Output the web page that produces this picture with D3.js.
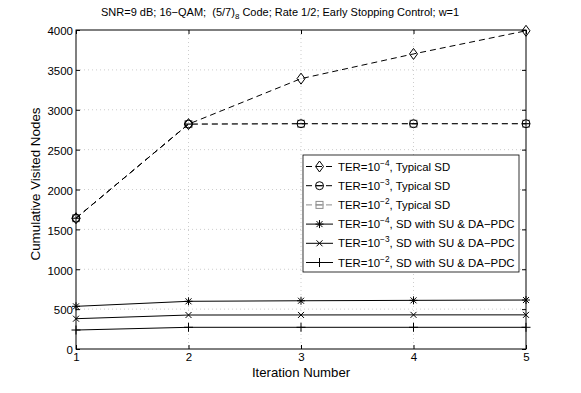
<!DOCTYPE html>
<html><head><meta charset="utf-8">
<script src="https://cdn.jsdelivr.net/npm/d3@7"></script>
<style>
body{margin:0;background:#fff;}
text{font-family:"Liberation Sans",Arial,Helvetica,sans-serif;}
</style></head>
<body><svg id="c" width="581" height="393"></svg>
<script>
const iterations = [1, 2, 3, 4, 5];
const typicalTER4 = [1640, 2820, 3390, 3700, 3990];
const typicalTER3 = [1640, 2820, 2825, 2825, 2825];
const typicalTER2 = [1640, 2820, 2825, 2825, 2825];
const suTER4 = [535, 598, 605, 610, 614];
const suTER3 = [380, 426, 427, 428, 428];
const suTER2 = [238, 272, 272, 272, 272];
const yTicks = [0, 500, 1000, 1500, 2000, 2500, 3000, 3500, 4000];
const xTicks = [1, 2, 3, 4, 5];
const legendExps = ["−4", "−3", "−2", "−4", "−3", "−2"];
const legendSuffix = [", Typical SD", ", Typical SD", ", Typical SD", ", SD with SU & DA−PDC", ", SD with SU & DA−PDC", ", SD with SU & DA−PDC"];

const series = [
  {v: typicalTER2, marker: "square", dash: "6,4", color: "#8c8c8c"},
  {v: typicalTER3, marker: "circle", dash: "6,4", color: "#000"},
  {v: typicalTER4, marker: "diamond", dash: "6,4", color: "#000"},
  {v: suTER4, marker: "star", dash: null, color: "#000"},
  {v: suTER3, marker: "x", dash: null, color: "#000"},
  {v: suTER2, marker: "plus", dash: null, color: "#000"}
];
const legendOrder = [2, 1, 0, 3, 4, 5];

const svg = d3.select("#c");
const L = 76, R = 526, T = 30, B = 349;
const x = d3.scaleLinear().domain([1, 5]).range([L, R]);
const y = d3.scaleLinear().domain([0, 4000]).range([B, T]);

// grid
const g = svg.append("g");
g.selectAll(".gx").data(xTicks.slice(1, -1)).enter().append("line")
  .attr("x1", d => x(d)).attr("x2", d => x(d)).attr("y1", T).attr("y2", B)
  .attr("stroke", "#c0c0c0").attr("stroke-width", 0.8).attr("stroke-dasharray", "1,3");
g.selectAll(".gy").data(yTicks.slice(1, -1)).enter().append("line")
  .attr("x1", L).attr("x2", R).attr("y1", d => y(d)).attr("y2", d => y(d))
  .attr("stroke", "#c0c0c0").attr("stroke-width", 0.8).attr("stroke-dasharray", "1,3");

// axes
const fs = 11.5;
const ax = svg.append("g").attr("transform", `translate(0,${B})`)
  .call(d3.axisBottom(x).tickValues(xTicks).tickFormat(d3.format("d")).tickSizeInner(-4).tickSizeOuter(0).tickPadding(6));
const ay = svg.append("g").attr("transform", `translate(${L},0)`)
  .call(d3.axisLeft(y).tickValues(yTicks).tickFormat(d3.format("d")).tickSizeInner(-4).tickSizeOuter(0).tickPadding(3));
const at = svg.append("g").attr("transform", `translate(0,${T})`)
  .call(d3.axisTop(x).tickValues(xTicks).tickFormat("").tickSizeInner(-4).tickSizeOuter(0));
const ar = svg.append("g").attr("transform", `translate(${R},0)`)
  .call(d3.axisRight(y).tickValues(yTicks).tickFormat("").tickSizeInner(-4).tickSizeOuter(0));
[ax, ay, at, ar].forEach(a => {
  a.select(".domain").remove();
  a.selectAll("text").attr("font-size", fs).attr("fill", "#000").style("font-family", '"Liberation Sans",Arial,sans-serif');
  a.selectAll("line").attr("stroke", "#000");
});
ay.selectAll("text").attr("dy", "0.42em");
ax.selectAll("text").attr("dy", "0.5em");
svg.append("rect").attr("x", L).attr("y", T).attr("width", R - L).attr("height", B - T)
  .attr("fill", "none").attr("stroke", "#000").attr("stroke-width", 1);

// marker drawer
function drawMarker(sel, type, cx, cy, color) {
  const s = sel.append("g").attr("transform", `translate(${cx},${cy})`)
    .attr("stroke", color).attr("fill", "none").attr("stroke-width", 1);
  if (type === "diamond") s.append("path").attr("d", "M0,-5.5L4,0L0,5.5L-4,0Z");
  else if (type === "circle") s.append("circle").attr("r", 4);
  else if (type === "square") s.append("rect").attr("x", -3.5).attr("y", -3.5).attr("width", 7).attr("height", 7);
  else if (type === "star") {
    s.append("path").attr("d", "M-4,0H4M0,-4V4M-3,-3L3,3M-3,3L3,-3");
  } else if (type === "x") s.append("path").attr("d", "M-3,-3L3,3M-3,3L3,-3");
  else if (type === "plus") s.append("path").attr("d", "M-4.5,0H4.5M0,-4.5V4.5");
  if (type === "circle" || type === "square") s.append("path").attr("d", "M-4,0H4");
}

const line = d3.line().x((d, i) => x(iterations[i])).y(d => y(d));
const plot = svg.append("g");
series.forEach(s => {
  plot.append("path").datum(s.v).attr("d", line).attr("fill", "none")
    .attr("stroke", s.color).attr("stroke-width", 1)
    .attr("stroke-dasharray", s.dash);
  s.v.forEach((v, i) => drawMarker(plot, s.marker, x(iterations[i]), y(v), s.color));
});

// legend
const lg = svg.append("g");
lg.append("rect").attr("x", 303).attr("y", 155).attr("width", 216).attr("height", 117)
  .attr("fill", "#fff").attr("stroke", "#000").attr("stroke-width", 0.8);
legendOrder.forEach((si, k) => {
  const s = series[si];
  const yy = 166.5 + k * 19.2;
  lg.append("line").attr("x1", 306).attr("x2", 333).attr("y1", yy).attr("y2", yy)
    .attr("stroke", s.color).attr("stroke-width", 1).attr("stroke-dasharray", s.dash);
  drawMarker(lg, s.marker, 319.5, yy, s.color);
  const t = lg.append("text").attr("x", 338).attr("y", yy + 4).attr("font-size", 11.4).attr("fill", "#000");
  t.append("tspan").text("TER=10");
  t.append("tspan").text(legendExps[k]).attr("font-size", 8.3).attr("dy", -5);
  t.append("tspan").text(legendSuffix[k]).attr("dy", 5);
});

// title
const tt = svg.append("text").attr("x", 101).attr("y", 16).attr("font-size", 11).style("white-space", "pre");
tt.append("tspan").text("SNR=9 dB; 16−QAM;  (5/7)");
tt.append("tspan").text("8").attr("font-size", 8).attr("dy", 3);
tt.append("tspan").text(" Code; Rate 1/2; Early Stopping Control; w=1").attr("dy", -3);

// axis labels
svg.append("text").attr("x", 301).attr("y", 377).attr("text-anchor", "middle").attr("font-size", 13.2).text("Iteration Number");
svg.append("text").attr("transform", `translate(40,184) rotate(-90)`).attr("text-anchor", "middle")
  .attr("font-size", 13.4).text("Cumulative Visited Nodes");
</script></body></html>
